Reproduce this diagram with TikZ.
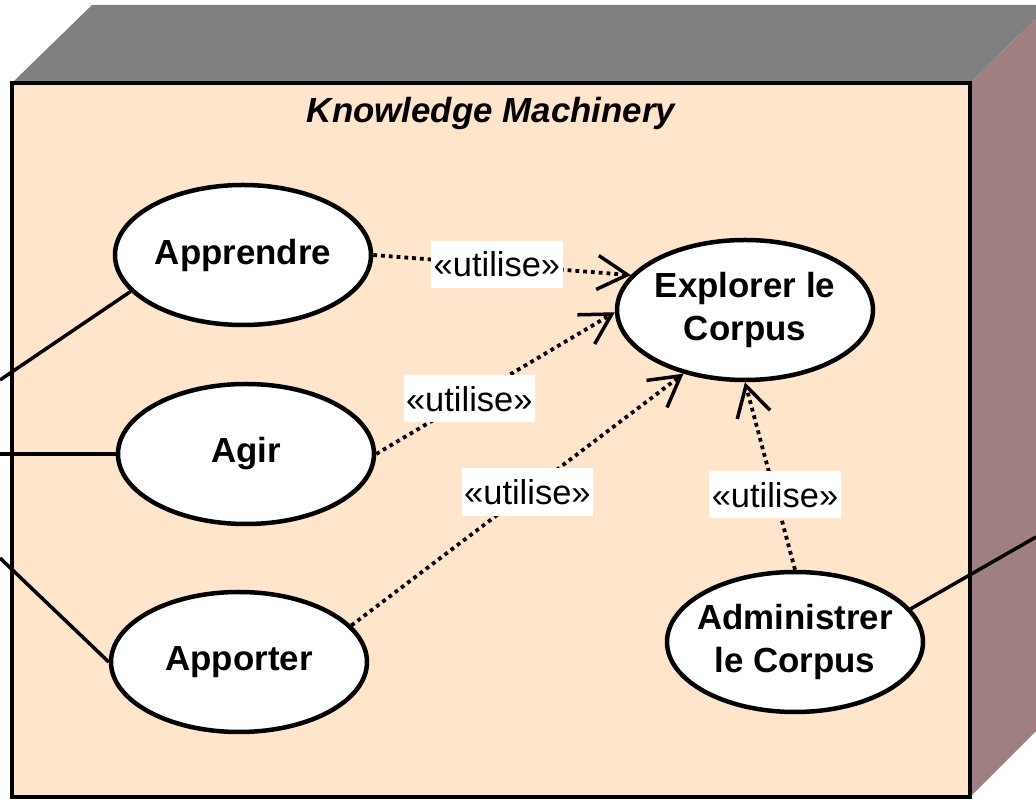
\documentclass[tikz,border=0pt]{standalone}
\usepackage{fontspec}
\setmainfont{Liberation Sans}
\usetikzlibrary{shapes.geometric,arrows.meta}
\definecolor{facefront}{HTML}{FFE5CC}
\definecolor{facetop}{HTML}{808080}
\definecolor{faceside}{HTML}{9F7F80}
\tikzset{
usecase/.style={ellipse,draw,fill=white,line width=0.045in,minimum width=2.56in,minimum height=1.40in,
  inner xsep=-0.3in,inner ysep=0pt,align=center,font=\fontsize{25.2}{31.7}\selectfont\bfseries},
uses/.style={line width=0.038in,dash pattern=on 0.038in off 0.04in,-{Straight Barb[length=0.30in,width=0.34in,line width=0.035in]}},
tag/.style={fill=white,inner xsep=0.025in,inner ysep=0.11in,font=\fontsize{24.9}{30}\selectfont},
}
\begin{document}
\begin{tikzpicture}[line width=0.035in]
\clip (0,0) rectangle (10.36in,7.99in);
\fill[facetop] (0.12in,7.16in) -- (0.92in,7.94in) -- (10.50in,7.94in) -- (9.70in,7.16in) -- cycle;
\fill[faceside] (9.70in,7.16in) -- (10.50in,7.94in) -- (10.50in,0.82in) -- (9.70in,0.02in) -- cycle;
\draw[fill=facefront,line width=0.045in] (0.12in,0.02in) rectangle (9.70in,7.16in);
\node[font=\fontsize{25.2}{30}\selectfont\bfseries\itshape] (title) at (4.91in,6.86in) {Knowledge Machinery};
\node[usecase] (apprendre) at (2.43in,5.44in) {Apprendre};
\node[usecase] (agir) at (2.46in,3.45in) {Agir};
\node[usecase] (apporter) at (2.39in,1.37in) {Apporter};
\node[usecase] (explorer) at (7.45in,4.89in) {Explorer le\\Corpus};
\node[usecase] (administrer) at (7.95in,1.57in) {Administrer\\le Corpus};
\coordinate (userA) at (0,4.19in);
\coordinate (userB) at (0,3.45in);
\coordinate (userC) at (0,2.41in);
\coordinate (admin) at (10.36in,2.62in);
\foreach \uc/\ang/\act in {apprendre/198/userA,agir/180/userB,apporter/180/userC,administrer/16/admin}
\draw (\uc.\ang) -- (\act);
\foreach \uc/\src/\dst/\p in {apprendre/east/163/0.48,agir/east/181/0.39,apporter/18/226/0.53,administrer/north/south/0.40}
\draw[uses] (\uc.\src) -- node[pos=\p,tag]{«utilise»} (explorer.\dst);
%\draw[step=0.1in, thin] (0,0) grid (10.36in,7.99in);
\end{tikzpicture}
\end{document}
